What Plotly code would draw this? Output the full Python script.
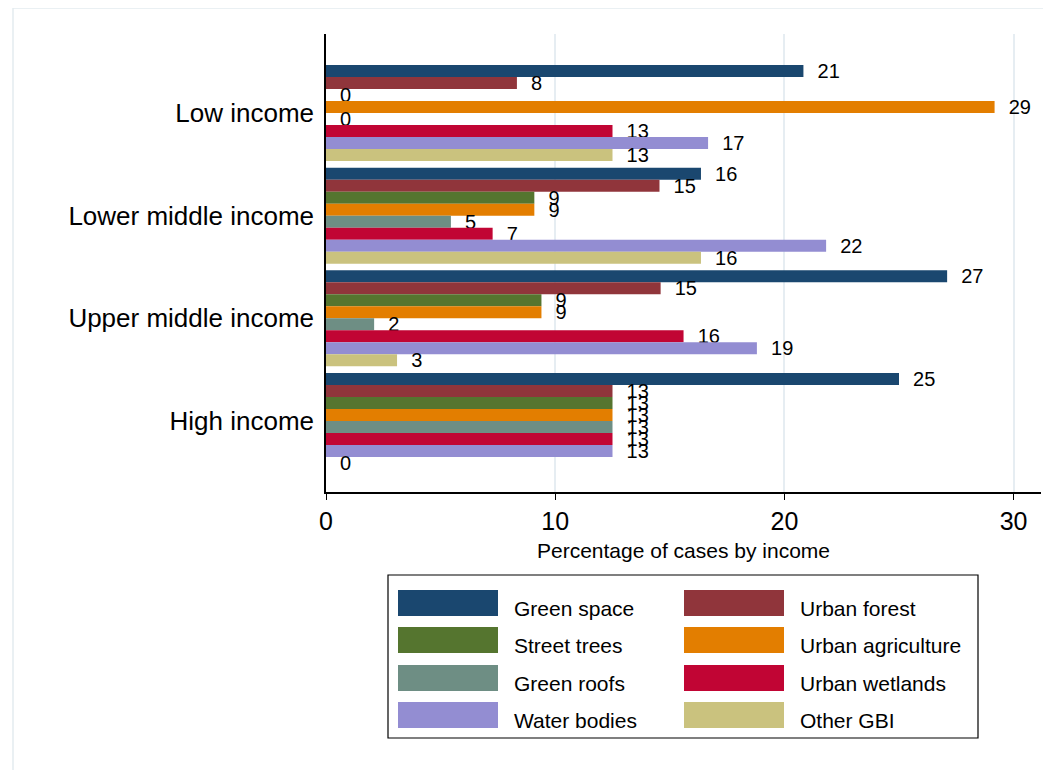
import plotly.graph_objects as go

# ---- data ----
income_groups = ["Low income", "Lower middle income", "Upper middle income", "High income"]
series_names = ["Green space", "Urban forest", "Street trees", "Urban agriculture",
                "Green roofs", "Urban wetlands", "Water bodies", "Other GBI"]
green_space = [20.83, 16.36, 27.1, 25.0]
urban_forest = [8.33, 14.55, 14.6, 12.5]
street_trees = [0.0, 9.09, 9.4, 12.5]
urban_agriculture = [29.17, 9.09, 9.4, 12.5]
green_roofs = [0.0, 5.45, 2.1, 12.5]
urban_wetlands = [12.5, 7.27, 15.6, 12.5]
water_bodies = [16.67, 21.82, 18.8, 12.5]
other_gbi = [12.5, 16.36, 3.1, 0.0]
x_ticks = [0, 10, 20, 30]
x_title = "Percentage of cases by income"

series_values = [green_space, urban_forest, street_trees, urban_agriculture,
                 green_roofs, urban_wetlands, water_bodies, other_gbi]
colors = ["#1a476f", "#90353b", "#55752f", "#e37e00",
          "#6e8e84", "#c10534", "#938dd2", "#cac27e"]

W, H = 1051, 770
OFFX, OFFY = 7, 8  # page offset of the plot div
# target screen positions of the plotting area
SX0, SX1, SY0, SY1 = 325, 1040, 34, 492
L, T = SX0 - OFFX, SY0 - OFFY
R, B = W - (SX1 - OFFX), H - (SY1 - OFFY)
PW, PH = W - L - R, H - T - B

def px(x):
    return (x - OFFX - L) / PW

def py(y):
    return 1 - (y - OFFY - T) / PH

fig = go.Figure()
for name, vals, col in zip(series_names, series_values, colors):
    fig.add_trace(go.Bar(
        y=income_groups, x=vals, orientation="h", name=name,
        marker=dict(color=col, line=dict(width=0)),
        text=["\u00a0\u00a0" + str(int(v + 0.5)) for v in vals],
        textposition="outside", cliponaxis=False, constraintext="none",
        textfont=dict(family="Liberation Sans, Arial", size=20, color="black"),
        showlegend=False,
    ))

fig.update_layout(
    width=W, height=H,
    margin=dict(l=L, r=R, t=T, b=B, pad=0),
    paper_bgcolor="white", plot_bgcolor="white",
    barmode="group", bargap=0.065, bargroupgap=0,
    font=dict(family="Liberation Sans, Arial", color="black"),
)
fig.update_xaxes(
    range=[0, PW / 22.92], tickvals=x_ticks, ticktext=[str(t) for t in x_ticks],
    showgrid=True, gridcolor="#e6edf2", gridwidth=1.5, zeroline=False,
    showline=True, linecolor="black", linewidth=1.5,
    ticks="outside", ticklen=6, tickcolor="black",
    tickfont=dict(size=25), title=dict(text=x_title, font=dict(size=21), standoff=10),
)
fig.update_yaxes(
    categoryorder="array", categoryarray=income_groups,
    range=[3 + 71 / 102.7, -79 / 102.7],
    showgrid=False, showline=True, linecolor="black", linewidth=1.5,
    ticks="", tickfont=dict(size=26), ticklabelstandoff=5,
)

shapes = [dict(type="rect", xref="paper", yref="paper",
               x0=px(12), x1=px(1070), y0=py(8), y1=py(790),
               line=dict(color="#e4ebf0", width=1.5), fillcolor="rgba(0,0,0,0)", layer="below")]
# legend box
shapes.append(dict(type="rect", xref="paper", yref="paper",
                   x0=px(387), x1=px(977), y0=py(575), y1=py(738),
                   line=dict(color="black", width=1.2), fillcolor="white"))
annotations = []
col_x = [397, 683]
row_y = [603, 640, 678, 715]
for i, (name, col) in enumerate(zip(series_names, colors)):
    cx = col_x[i % 2]
    ry = row_y[i // 2]
    shapes.append(dict(type="rect", xref="paper", yref="paper",
                       x0=px(cx), x1=px(cx + 100), y0=py(ry - 13), y1=py(ry + 13),
                       line=dict(width=0), fillcolor=col))
    annotations.append(dict(xref="paper", yref="paper", x=px(cx + 114), y=py(ry + 5),
                            text=name, showarrow=False, xanchor="left", yanchor="middle",
                            font=dict(size=21, color="black")))
fig.update_layout(shapes=shapes, annotations=annotations)

fig.write_html("out.html")
